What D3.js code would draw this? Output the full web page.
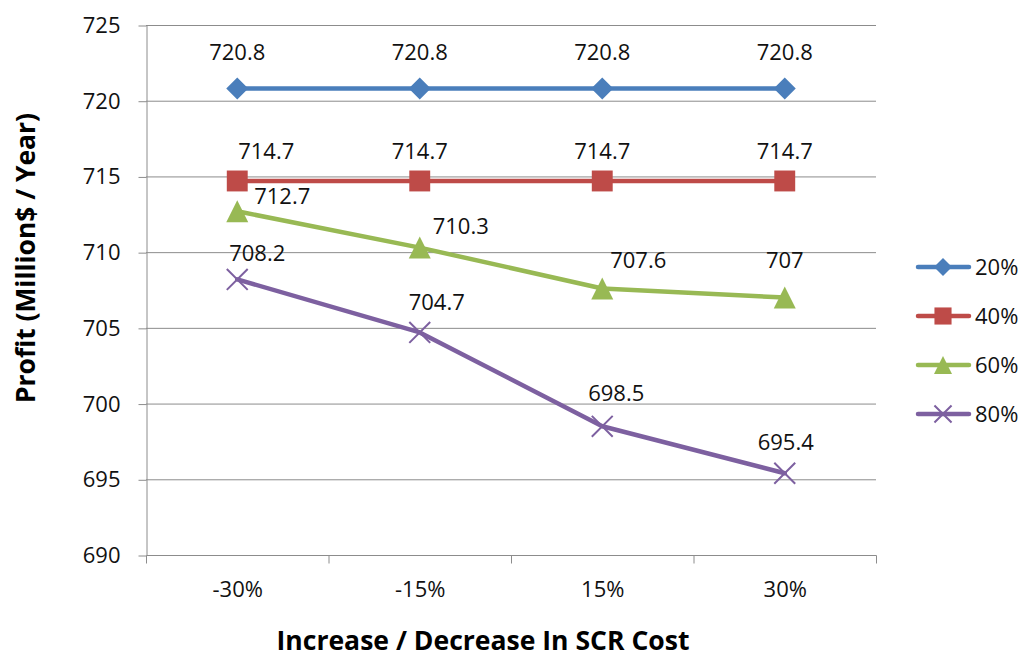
<!DOCTYPE html>
<html>
<head>
<meta charset="utf-8">
<script src="https://cdn.jsdelivr.net/npm/d3@7"></script>
<style>
  html, body { margin: 0; padding: 0; background: #fff; }
  svg { display: block; font-family: "Open Sans", "Liberation Sans", sans-serif; }
</style>
</head>
<body>
<svg id="chart" width="1021" height="658"></svg>
<script>
// Cost scenarios on the x axis
const categories = ["-30%", "-15%", "15%", "30%"];
// Series names (legend) and their profit values, Million$ per year
const seriesNames = ["20%", "40%", "60%", "80%"];
const values20 = [720.8, 720.8, 720.8, 720.8];
const values40 = [714.7, 714.7, 714.7, 714.7];
const values60 = [712.7, 710.3, 707.6, 707.0];
const values80 = [708.2, 704.7, 698.5, 695.4];
const yTicks = [690, 695, 700, 705, 710, 715, 720, 725];

// Presentation settings
const colors = ["#4A7EBB", "#BE4B48", "#98B954", "#7D60A0"];
const markers = ["diamond", "square", "triangle", "cross"];
// label offsets (dx, dy of label centre from its point), per series and point
const labelOffsets = [
  [[0, -36], [0, -36], [0, -36], [0, -36]],
  [[29, -30], [0, -30], [0, -30], [0, -30]],
  [[45, -15], [41, -21], [36, -28], [0, -37]],
  [[20, -26], [17, -30], [14, -33], [1, -31]]
];

const allSeries = [values20, values40, values60, values80].map((v, i) => ({
  name: seriesNames[i], values: v, color: colors[i], marker: markers[i], offsets: labelOffsets[i]
}));

const svg = d3.select("#chart");
const plotLeft = 146, plotRight = 876, plotTop = 25, plotBottom = 555;

const x = d3.scaleBand().domain(categories).range([plotLeft, plotRight]).padding(0);
const y = d3.scaleLinear().domain([690, 725]).range([plotBottom, plotTop]);
const cx = c => x(c) + x.bandwidth() / 2;

const gridColor = "#8C8C8C";
const fontSize = 22;

// horizontal gridlines
svg.append("g").selectAll("line").data(yTicks.filter(t => t !== 690)).join("line")
  .attr("x1", plotLeft).attr("x2", plotRight)
  .attr("y1", d => y(d) + 0.5).attr("y2", d => y(d) + 0.5)
  .attr("stroke", gridColor).attr("stroke-width", 1);

// y axis
const yAxis = d3.axisLeft(y).tickValues(yTicks).tickSize(8).tickPadding(18).tickSizeOuter(0);
const gy = svg.append("g").attr("transform", `translate(${plotLeft + 0.5},0.5)`).call(yAxis);
gy.select(".domain").attr("stroke", gridColor);
gy.selectAll(".tick line").attr("stroke", gridColor);
gy.selectAll(".tick text").attr("font-size", fontSize).attr("fill", "#111")
  .attr("font-family", "Open Sans");

// x axis with ticks at category boundaries
const gx = svg.append("g").attr("transform", `translate(0.5,${plotBottom + 0.5})`);
gx.append("line").attr("x1", plotLeft).attr("x2", plotRight).attr("stroke", gridColor);
const boundaries = categories.map(c => x(c)).concat([plotRight]);
gx.selectAll("line.tk").data(boundaries).join("line").attr("class", "tk")
  .attr("x1", d => d).attr("x2", d => d).attr("y1", 0).attr("y2", 8).attr("stroke", gridColor);
gx.selectAll("text").data(categories).join("text")
  .attr("x", d => cx(d)).attr("y", 41)
  .attr("text-anchor", "middle").attr("font-size", fontSize).attr("fill", "#111")
  .text(d => d);

// marker drawing
function drawMarker(g, type, color, size) {
  const h = size / 2;
  if (type === "diamond") {
    g.append("path").attr("d", `M0,${-h}L${h},0L0,${h}L${-h},0Z`).attr("fill", color);
  } else if (type === "square") {
    const s = h * 0.95;
    g.append("rect").attr("x", -s).attr("y", -s).attr("width", 2 * s).attr("height", 2 * s).attr("fill", color);
  } else if (type === "triangle") {
    g.append("path").attr("d", `M0,${-h}L${h},${h}L${-h},${h}Z`).attr("fill", color);
  } else if (type === "cross") {
    const s = h * 0.95;
    g.append("path").attr("d", `M${-s},${-s}L${s},${s}M${-s},${s}L${s},${-s}`)
      .attr("stroke", color).attr("stroke-width", 2).attr("fill", "none");
  }
}

const line = d3.line().x((d, i) => cx(categories[i])).y(d => y(d));

allSeries.forEach(s => {
  const g = svg.append("g");
  g.append("path").datum(s.values).attr("d", line)
    .attr("fill", "none").attr("stroke", s.color).attr("stroke-width", 4.5)
    .attr("stroke-linejoin", "round").attr("stroke-linecap", "round");
  s.values.forEach((v, i) => {
    const m = g.append("g").attr("transform", `translate(${cx(categories[i])},${y(v)})`);
    drawMarker(m, s.marker, s.color, 22);
  });
});

// data labels
allSeries.forEach(s => {
  svg.append("g").selectAll("text").data(s.values).join("text")
    .attr("x", (d, i) => cx(categories[i]) + s.offsets[i][0])
    .attr("y", (d, i) => y(d) + s.offsets[i][1])
    .attr("dy", "0.35em")
    .attr("text-anchor", "middle").attr("font-size", fontSize).attr("fill", "#111")
    .text(d => String(d));
});

// legend
const legend = svg.append("g");
allSeries.forEach((s, i) => {
  const ly = 267 + i * 49;
  const g = legend.append("g").attr("transform", `translate(0,${ly})`);
  g.append("line").attr("x1", 918).attr("x2", 969).attr("y1", 0).attr("y2", 0)
    .attr("stroke", s.color).attr("stroke-width", 4.5).attr("stroke-linecap", "round");
  const m = g.append("g").attr("transform", "translate(943,0)");
  drawMarker(m, s.marker, s.color, 18);
  g.append("text").attr("x", 975).attr("y", 0).attr("dy", "0.35em")
    .attr("font-size", fontSize).attr("fill", "#111").text(s.name);
});

// axis titles, sized to their measured extents
function fitText(sel, target) {
  const len = sel.node().getComputedTextLength();
  const fs = parseFloat(sel.attr("font-size"));
  sel.attr("font-size", (fs * target / len).toFixed(2));
}
const yTitle = svg.append("text")
  .attr("transform", "translate(35,258) rotate(-90)")
  .attr("text-anchor", "middle").attr("font-weight", "bold").attr("font-size", 24).attr("fill", "#000")
  .text("Profit (Million$ / Year)");
fitText(yTitle, 290);
const xTitle = svg.append("text")
  .attr("x", 483).attr("y", 650)
  .attr("text-anchor", "middle").attr("font-weight", "bold").attr("font-size", 24).attr("fill", "#000")
  .text("Increase / Decrease In SCR Cost");
fitText(xTitle, 413);
</script>
</body>
</html>
